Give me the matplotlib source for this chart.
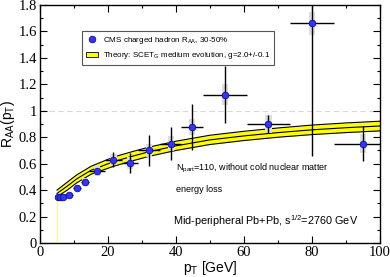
import numpy as np
import matplotlib
matplotlib.use("Agg")
import matplotlib.pyplot as plt
from matplotlib.patches import Rectangle

# CMS charged hadron RAA, 30-50%
pt = [5.2, 5.8, 6.8, 8.4, 10.8, 13.2, 16.8, 21.6, 26.4, 32.0, 38.4, 44.8, 54.4, 67.2, 80.0, 95.0]
pt_lo = [4.8, 5.2, 6.4, 7.2, 9.6, 12.0, 14.4, 19.2, 24.0, 28.8, 35.2, 41.6, 48.0, 60.8, 73.6, 86.4]
pt_hi = [5.6, 6.4, 7.2, 9.6, 12.0, 14.4, 19.2, 24.0, 28.8, 35.2, 41.6, 48.0, 60.8, 73.6, 86.4, 103.6]
raa = [0.345, 0.345, 0.35, 0.36, 0.415, 0.46, 0.545, 0.63, 0.605, 0.70, 0.752, 0.876, 1.12, 0.90, 1.66, 0.752]
raa_err = [0.01, 0.01, 0.01, 0.01, 0.015, 0.02, 0.025, 0.055, 0.075, 0.12, 0.123, 0.175, 0.215, 0.07, 1.0, 0.13]
raa_sys = [0.02, 0.02, 0.02, 0.02, 0.025, 0.03, 0.035, 0.04, 0.045, 0.05, 0.055, 0.06, 0.08, 0.07, 0.09, 0.07]

# SCET_G theory band
pt_th = [5, 8, 10.8, 15, 21.6, 27, 32, 40, 50, 60, 70, 80, 90, 100]
th_mid = [0.375, 0.43, 0.485, 0.55, 0.615, 0.655, 0.69, 0.735, 0.78, 0.81, 0.835, 0.856, 0.872, 0.885]
th_up = [0.40, 0.46, 0.515, 0.58, 0.65, 0.69, 0.725, 0.77, 0.815, 0.845, 0.87, 0.892, 0.908, 0.921]
th_lo = [0.35, 0.40, 0.455, 0.52, 0.58, 0.62, 0.655, 0.70, 0.745, 0.775, 0.80, 0.82, 0.835, 0.848]

xticks = [0, 20, 40, 60, 80, 100]
yticks = [0, 0.2, 0.4, 0.6, 0.8, 1.0, 1.2, 1.4, 1.6, 1.8]
ylabels = ['0', '0.2', '0.4', '0.6', '0.8', '1', '1.2', '1.4', '1.6', '1.8']

sans = ['Liberation Sans', 'DejaVu Sans']
serif = ['Liberation Serif', 'DejaVu Serif']

fig = plt.figure(figsize=(3.9, 2.77), dpi=100)
ax = fig.add_axes([0.1026, 0.1227, 0.8718, 0.8593])

ax.axhline(1.0, color='#d8d8d8', lw=0.8, ls=(0, (5, 3)), zorder=0)

ax.plot([pt_th[0], pt_th[0]], [0, th_lo[0]], color='#ffff66', lw=0.8, zorder=1)
band = ax.fill_between(pt_th, th_lo, th_up, color='#ffff00', lw=0, zorder=2)
ax.plot(pt_th, th_up, color='black', lw=0.8, zorder=3)
ax.plot(pt_th, th_mid, color='black', lw=0.8, zorder=3)
ax.plot(pt_th, th_lo, color='black', lw=0.8, zorder=3)

for x, y, s in zip(pt, raa, raa_sys):
    ax.add_patch(Rectangle((x - 0.9, y - s), 1.8, 2 * s, color='#dddddd', lw=0, zorder=4))

xerr = [np.array(pt) - np.array(pt_lo), np.array(pt_hi) - np.array(pt)]
ax.errorbar(pt, raa, yerr=raa_err, xerr=xerr, fmt='none', ecolor='black', elinewidth=1.0, capsize=0, zorder=5)
pts, = ax.plot(pt, raa, 'o', color='#3333ff', mec='#000080', mew=0.5, ms=4.8, zorder=6)

ax.set_xlim(0, 100)
ax.set_ylim(0, 1.8)
ax.set_xticks(xticks, [str(v) for v in xticks], fontfamily=serif, fontsize=10.5)
ax.set_xticks(np.arange(0, 101, 10), minor=True)
ax.set_yticks(yticks, ylabels, fontfamily=serif, fontsize=10.5)
ax.set_yticks(np.arange(0, 1.81, 0.1), minor=True)
ax.tick_params(which='both', direction='in', top=True, right=True, width=0.8)
ax.tick_params(which='major', length=5, pad=2)
ax.tick_params(which='minor', length=2.5)
for sp in ax.spines.values():
    sp.set_linewidth(1.0)

ax.set_xlabel('p$_\\mathregular{T}$ [GeV]', family=sans, fontsize=10, labelpad=0)
ax.set_ylabel('R$_\\mathregular{AA}$(p$_\\mathregular{T}$)', family=sans, fontsize=10, labelpad=1)

leg = ax.legend([pts, band],
                ['CMS charged hadron R$_\\mathregular{AA}$, 30-50%',
                 'Theory: SCET$_\\mathregular{G}$ medium evolution, g=2.0+/-0.1'],
                loc='upper left', bbox_to_anchor=(0.1235, 0.89), fancybox=False,
                edgecolor='#555555', framealpha=1, prop={'family': sans, 'size': 5.8},
                handlelength=1.5, handletextpad=0.7, borderpad=0.45, labelspacing=0.55,
                borderaxespad=0)
leg.get_frame().set_linewidth(0.8)
leg.legend_handles[1].set_edgecolor('black')
leg.legend_handles[1].set_linewidth(0.6)

ax.text(0.40, 0.305, 'N$_\\mathregular{part}$=110, without cold nuclear matter', transform=ax.transAxes,
        family=sans, fontsize=6.5)
ax.text(0.40, 0.215, 'energy loss', transform=ax.transAxes, family=sans, fontsize=6.5)
ax.text(0.39, 0.075, 'Mid-peripheral Pb+Pb, s$^\\mathregular{1/2}$=2760 GeV', transform=ax.transAxes,
        family=sans, fontsize=7.8)

fig.savefig('out.png', dpi=100)
